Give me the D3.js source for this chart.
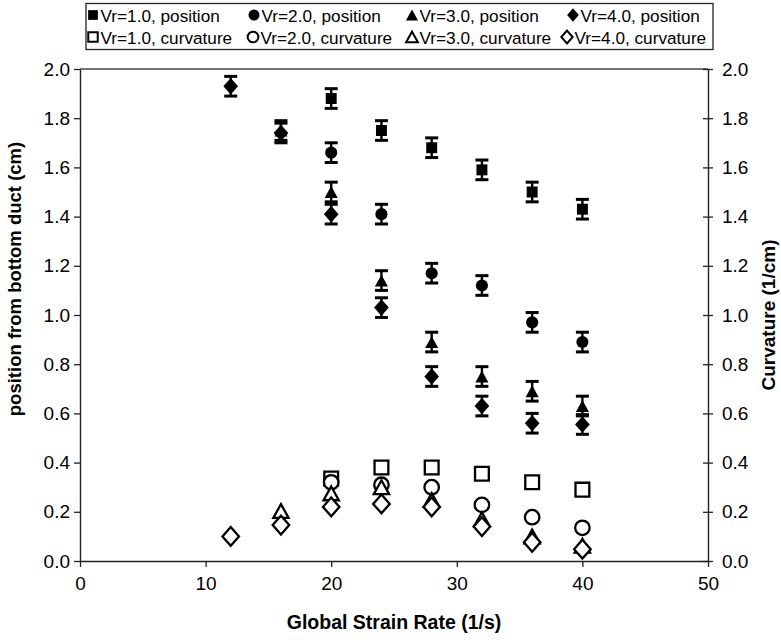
<!DOCTYPE html>
<html>
<head>
<meta charset="utf-8">
<script src="https://cdn.jsdelivr.net/npm/d3@7"></script>
<style>
  html, body { margin: 0; padding: 0; background: #fff; }
  svg { display: block; font-family: "Liberation Sans", Arial, Helvetica, sans-serif; }
</style>
</head>
<body>
<svg id="chart" width="781" height="640"></svg>
<script>
// Strain rates (1/s) at which each velocity ratio was measured
const xVr1 = [20, 24, 28, 32, 36, 40];
const xVr2 = [20, 24, 28, 32, 36, 40];
const xVr3 = [16, 20, 24, 28, 32, 36, 40];
const xVr4 = [12, 16, 20, 24, 28, 32, 36, 40];

// Flame position from bottom duct (cm)
const posVr1 = [1.88, 1.75, 1.68, 1.59, 1.50, 1.43];
const posVr2 = [1.66, 1.41, 1.17, 1.12, 0.97, 0.89];
const posVr3 = [1.75, 1.50, 1.14, 0.89, 0.75, 0.69, 0.63];
const posVr4 = [1.93, 1.74, 1.41, 1.03, 0.75, 0.63, 0.56, 0.555];

// Flame curvature (1/cm)
const curvVr1 = [0.335, 0.38, 0.38, 0.355, 0.32, 0.29];
const curvVr2 = [0.32, 0.31, 0.30, 0.228, 0.178, 0.135];
const curvVr3 = [0.203, 0.275, 0.30, 0.248, 0.17, 0.10, 0.062];
const curvVr4 = [0.10, 0.146, 0.22, 0.232, 0.22, 0.14, 0.076, 0.048];

// Uncertainty on position measurements (cm)
const positionError = 0.04;

const xTicks = [0, 10, 20, 30, 40, 50];
const yTicks = [0, 0.2, 0.4, 0.6, 0.8, 1.0, 1.2, 1.4, 1.6, 1.8, 2.0];

const legendLabels = [
  "Vr=1.0, position", "Vr=2.0, position", "Vr=3.0, position", "Vr=4.0, position",
  "Vr=1.0, curvature", "Vr=2.0, curvature", "Vr=3.0, curvature", "Vr=4.0, curvature"
];

// ---- custom marker shapes ----
const shapeSquare = { draw(ctx, size) { const h = Math.sqrt(size) / 2; ctx.rect(-h, -h, 2 * h, 2 * h); } };
const shapeCircle = { draw(ctx, size) { const r = Math.sqrt(size / Math.PI); ctx.moveTo(r, 0); ctx.arc(0, 0, r, 0, 2 * Math.PI); } };
const shapeTriangle = { draw(ctx, size) {
  const s = Math.sqrt(size) * 1.25, h = s * 0.9;
  ctx.moveTo(0, -h / 2); ctx.lineTo(s / 2, h / 2); ctx.lineTo(-s / 2, h / 2); ctx.closePath(); } };
const shapeDiamond = { draw(ctx, size) {
  const w = Math.sqrt(size) * 0.6, h = Math.sqrt(size) * 0.68;
  ctx.moveTo(0, -h); ctx.lineTo(w, 0); ctx.lineTo(0, h); ctx.lineTo(-w, 0); ctx.closePath(); } };

const series = [
  { xs: xVr1, pos: posVr1, curv: curvVr1, shape: shapeSquare,   fs: 120, os: 190 },
  { xs: xVr2, pos: posVr2, curv: curvVr2, shape: shapeCircle,   fs: 115, os: 165 },
  { xs: xVr3, pos: posVr3, curv: curvVr3, shape: shapeTriangle, fs: 110, os: 150 },
  { xs: xVr4, pos: posVr4, curv: curvVr4, shape: shapeDiamond,  fs: 150, os: 190 }
];

const svg = d3.select("#chart");
const plotLeft = 80, plotRight = 708, plotTop = 69, plotBottom = 561;

const x = d3.scaleLinear().domain([0, 50]).range([plotLeft, plotRight]);
const yL = d3.scaleLinear().domain([0, 2]).range([plotBottom, plotTop]);
const yR = d3.scaleLinear().domain([0, 2]).range([plotBottom, plotTop]);

const axisColor = "#222";
const fmt = d3.format(".1f");

// plot frame top edge
svg.append("line").attr("x1", plotLeft).attr("x2", plotRight).attr("y1", plotTop).attr("y2", plotTop)
  .attr("stroke", "#444").attr("stroke-width", 1.3);

// bottom axis
const gx = svg.append("g").attr("transform", `translate(0,${plotBottom})`)
  .call(d3.axisBottom(x).tickValues(xTicks).tickFormat(d3.format("d")).tickSize(6).tickSizeOuter(0));
gx.selectAll("text").attr("dy", "1.05em");

// left axis
const gyL = svg.append("g").attr("transform", `translate(${plotLeft},0)`)
  .call(d3.axisLeft(yL).tickValues(yTicks).tickFormat(fmt).tickSize(6).tickSizeOuter(0));

// right axis, ticks crossing the line
const gyR = svg.append("g").attr("transform", `translate(${plotRight},0)`)
  .call(d3.axisRight(yR).tickValues(yTicks).tickFormat(fmt).tickSize(5).tickSizeOuter(0));
gyR.selectAll(".tick line").attr("x1", -5);
gyR.selectAll(".tick text").attr("x", 14);
gyL.selectAll(".tick text").attr("x", -10);

[gx, gyL, gyR].forEach(g => {
  g.select(".domain").attr("stroke", axisColor).attr("stroke-width", 1.4);
  g.selectAll(".tick line").attr("stroke", axisColor).attr("stroke-width", 1.3);
  g.selectAll(".tick text").attr("font-size", 19).attr("fill", "#000")
    .attr("font-family", "'Liberation Sans', Arial, sans-serif");
});

// axis titles
svg.append("text").attr("x", (plotLeft + plotRight) / 2).attr("y", 629)
  .attr("text-anchor", "middle").attr("font-size", 19.5).attr("font-weight", "bold")
  .text("Global Strain Rate (1/s)");
svg.append("text").attr("transform", `translate(21,${(plotTop + plotBottom) / 2 - 36}) rotate(-90)`)
  .attr("text-anchor", "middle").attr("font-size", 18.5).attr("font-weight", "bold")
  .text("position from bottom duct (cm)");
svg.append("text").attr("transform", `translate(775,${(plotTop + plotBottom) / 2}) rotate(-90)`)
  .attr("text-anchor", "middle").attr("font-size", 19).attr("font-weight", "bold")
  .text("Curvature (1/cm)");

// ---- data ----
const plot = svg.append("g");

// curvature (open markers, right axis)
series.forEach(s => {
  plot.append("g").selectAll("path")
    .data(s.xs.map((xv, i) => ({ x: xv, y: s.curv[i] })))
    .join("path")
    .attr("transform", d => `translate(${x(d.x)},${yR(d.y)})`)
    .attr("d", d3.symbol().type(s.shape).size(s.os)())
    .attr("fill", "#fff").attr("stroke", "#000").attr("stroke-width", 2.3);
});

// position (filled markers with error bars, left axis)
series.forEach(s => {
  const pts = s.xs.map((xv, i) => ({ x: xv, y: s.pos[i] }));
  const g = plot.append("g");
  const eb = g.selectAll("g.err").data(pts).join("g").attr("class", "err");
  eb.append("line")
    .attr("x1", d => x(d.x)).attr("x2", d => x(d.x))
    .attr("y1", d => yL(d.y - positionError)).attr("y2", d => yL(d.y + positionError))
    .attr("stroke", "#000").attr("stroke-width", 2.4);
  [-1, 1].forEach(sign => {
    eb.append("line")
      .attr("x1", d => x(d.x) - 6.5).attr("x2", d => x(d.x) + 6.5)
      .attr("y1", d => yL(d.y + sign * positionError)).attr("y2", d => yL(d.y + sign * positionError))
      .attr("stroke", "#000").attr("stroke-width", 3);
  });
  g.selectAll("path").data(pts).join("path")
    .attr("transform", d => `translate(${x(d.x)},${yL(d.y)})`)
    .attr("d", d3.symbol().type(s.shape).size(s.fs)())
    .attr("fill", "#000");
});

// ---- legend ----
const legend = svg.append("g");
legend.append("rect").attr("x", 86).attr("y", 3.5).attr("width", 627).attr("height", 46)
  .attr("fill", "#fff").attr("stroke", "#222").attr("stroke-width", 1.3);
const colX = [[93, 254, 412, 573], [93, 253, 412, 567]];
const rowY = [15, 37];
legendLabels.forEach((label, i) => {
  const row = Math.floor(i / 4), col = i % 4;
  const s = series[col];
  const cx = colX[row][col], cy = rowY[row];
  const sym = legend.append("path")
    .attr("transform", `translate(${cx},${cy})`)
    .attr("d", d3.symbol().type(s.shape).size(row === 0 ? 95 : 90)());
  if (row === 0) sym.attr("fill", "#000");
  else sym.attr("fill", "#fff").attr("stroke", "#000").attr("stroke-width", 2);
  legend.append("text").attr("x", cx + 7.5).attr("y", cy + 6.5)
    .attr("font-size", 17.2).text(label);
});
</script>
</body>
</html>
